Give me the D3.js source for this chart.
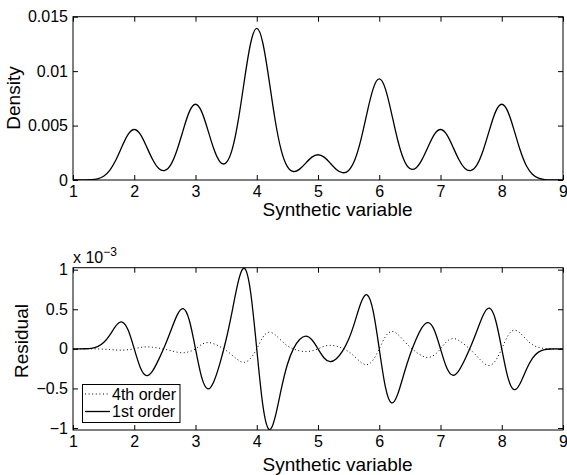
<!DOCTYPE html>
<html>
<head>
<meta charset="utf-8">
<script src="https://cdn.jsdelivr.net/npm/d3@7"></script>
<style>
	body { margin: 0; background: #fff; }
	svg text { font-family: "Liberation Sans", Arial, Helvetica, sans-serif; fill: #000; }
	.tick text { font-size: 16px; }
	.axis-label { font-size: 19px; }
	.legend-label { font-size: 16px; }
</style>
</head>
<body>
<svg id="chart" width="567" height="475"></svg>
<script>

// sample positions along the synthetic variable
const x_values = [
	1.0, 1.1, 1.2, 1.3, 1.4, 1.5, 1.6, 1.7, 1.8, 1.9,
	2.0, 2.1, 2.2, 2.3, 2.4, 2.5, 2.6, 2.7, 2.8, 2.9,
	3.0, 3.1, 3.2, 3.3, 3.4, 3.5, 3.6, 3.7, 3.8, 3.9,
	4.0, 4.1, 4.2, 4.3, 4.4, 4.5, 4.6, 4.7, 4.8, 4.9,
	5.0, 5.1, 5.2, 5.3, 5.4, 5.5, 5.6, 5.7, 5.8, 5.9,
	6.0, 6.1, 6.2, 6.3, 6.4, 6.5, 6.6, 6.7, 6.8, 6.9,
	7.0, 7.1, 7.2, 7.3, 7.4, 7.5, 7.6, 7.7, 7.8, 7.9,
	8.0, 8.1, 8.2, 8.3, 8.4, 8.5, 8.6, 8.7, 8.8, 8.9, 9.0];

const density = [
	0.00000, 0.00000, 0.00001, 0.00003, 0.00011, 0.00035, 0.00089, 0.00183, 0.00307, 0.00419,
	0.00464, 0.00419, 0.00308, 0.00188, 0.00106, 0.00088, 0.00144, 0.00278, 0.00461, 0.00628,
	0.00696, 0.00628, 0.00463, 0.00284, 0.00167, 0.00158, 0.00283, 0.00554, 0.00922, 0.01256,
	0.01392, 0.01256, 0.00922, 0.00551, 0.00272, 0.00123, 0.00078, 0.00100, 0.00155, 0.00210,
	0.00232, 0.00210, 0.00155, 0.00097, 0.00067, 0.00088, 0.00183, 0.00368, 0.00615, 0.00837,
	0.00928, 0.00837, 0.00615, 0.00370, 0.00189, 0.00105, 0.00111, 0.00189, 0.00308, 0.00419,
	0.00464, 0.00419, 0.00308, 0.00188, 0.00106, 0.00088, 0.00144, 0.00278, 0.00461, 0.00628,
	0.00696, 0.00628, 0.00461, 0.00275, 0.00133, 0.00053, 0.00017, 0.00004, 0.00001, 0.00000, 0.00000];

// residuals, in units of 10^-3
const residual_4th = [
	0, 0, 0, 0, -0.001, -0.004, -0.008, -0.014, -0.016, -0.011,
	0, 0.018, 0.025, 0.020, 0.009, -0.006, -0.024, -0.042, -0.050, -0.035,
	0, 0.056, 0.079, 0.064, 0.027, -0.021, -0.081, -0.143, -0.170, -0.119,
	0, 0.147, 0.210, 0.178, 0.105, 0.040, -0.001, -0.025, -0.034, -0.025,
	0, 0.032, 0.044, 0.034, 0.007, -0.036, -0.099, -0.169, -0.200, -0.140,
	0, 0.154, 0.219, 0.185, 0.104, 0.025, -0.039, -0.089, -0.109, -0.077,
	0, 0.091, 0.129, 0.106, 0.050, -0.019, -0.097, -0.175, -0.210, -0.147,
	0, 0.165, 0.235, 0.200, 0.120, 0.054, 0.019, 0.005, 0.001, 0, 0];

const residual_1st = [
	0, 0, 0.001, 0.007, 0.027, 0.079, 0.174, 0.289, 0.339, 0.238,
	0, -0.238, -0.337, -0.278, -0.133, 0.039, 0.234, 0.426, 0.508, 0.358,
	0, -0.357, -0.505, -0.411, -0.180, 0.118, 0.481, 0.855, 1.016, 0.715,
	0, -0.715, -1.017, -0.863, -0.509, -0.198, 0.003, 0.118, 0.160, 0.115,
	0, -0.115, -0.162, -0.126, -0.030, 0.120, 0.338, 0.578, 0.683, 0.480,
	0, -0.480, -0.682, -0.575, -0.324, -0.080, 0.118, 0.271, 0.332, 0.236,
	0, -0.236, -0.333, -0.274, -0.131, 0.041, 0.237, 0.430, 0.513, 0.361,
	0, -0.361, -0.514, -0.437, -0.264, -0.119, -0.041, -0.011, -0.002, 0, 0];

const x_ticks = [1, 2, 3, 4, 5, 6, 7, 8, 9];
const density_ticks = [0, 0.005, 0.01, 0.015];
const density_tick_labels = ["0", "0.005", "0.01", "0.015"];
const residual_ticks = [-1, -0.5, 0, 0.5, 1];
const residual_tick_labels = ["\u22121", "\u22120.5", "0", "0.5", "1"];
const legend_labels = ["4th order", "1st order"];

const svg = d3.select("#chart");

const x = d3.scaleLinear().domain([1, 9]).range([73, 563]);

function drawFrame(g, y, y_ticks, y_labels, id) {
	const [x0, x1] = x.range();
	const [y0, y1] = y.range();

	g.append("g")
		.attr("transform", "translate(0," + y0 + ")")
		.call(d3.axisBottom(x).tickValues(x_ticks).tickFormat(d3.format("d")).tickSize(-5).tickPadding(6));
	g.append("g")
		.attr("transform", "translate(0," + y1 + ")")
		.call(d3.axisTop(x).tickValues(x_ticks).tickFormat("").tickSize(-5));
	g.append("g")
		.attr("transform", "translate(" + x0 + ",0)")
		.call(d3.axisLeft(y).tickValues(y_ticks).tickFormat((d, i) => y_labels[i]).tickSize(-5).tickPadding(5));
	g.append("g")
		.attr("transform", "translate(" + x1 + ",0)")
		.call(d3.axisRight(y).tickValues(y_ticks).tickFormat("").tickSize(-5));
	g.selectAll(".domain").remove();

	g.append("rect")
		.attr("x", x0).attr("y", y1)
		.attr("width", x1 - x0).attr("height", y0 - y1)
		.style("fill", "none")
		.style("stroke", "black")
		.style("stroke-width", "1px");

	// clip the curves to the axes box
	g.append("clipPath").attr("id", id)
		.append("rect")
		.attr("x", x0).attr("y", y1)
		.attr("width", x1 - x0).attr("height", y0 - y1);
}

function drawCurve(g, y, values, dash, clip_id) {
	const line = d3.line()
		.x((d, i) => x(x_values[i]))
		.y(d => y(d))
		.curve(d3.curveNatural);
	g.append("path")
		.datum(values)
		.attr("d", line)
		.attr("clip-path", "url(#" + clip_id + ")")
		.style("fill", "none")
		.style("stroke", "black")
		.style("stroke-width", dash ? "1px" : "1.3px")
		.style("stroke-dasharray", dash ? dash : null);
}

// top panel: density
const y_density = d3.scaleLinear().domain([0, 0.015]).range([180, 16.7]);
const top_g = svg.append("g");
drawFrame(top_g, y_density, density_ticks, density_tick_labels, "clip-top");
drawCurve(top_g, y_density, density, null, "clip-top");

top_g.append("text")
	.attr("class", "axis-label")
	.attr("x", 337.5).attr("y", 216)
	.attr("text-anchor", "middle")
	.text("Synthetic variable");
top_g.append("text")
	.attr("class", "axis-label")
	.attr("text-anchor", "middle")
	.attr("transform", "translate(20,98) rotate(-90)")
	.text("Density");

// bottom panel: residuals
const y_resid = d3.scaleLinear().domain([-1.025, 1.025]).range([430, 267.7]);
const bot_g = svg.append("g");
drawFrame(bot_g, y_resid, residual_ticks, residual_tick_labels, "clip-bottom");
drawCurve(bot_g, y_resid, residual_4th, "1,2.6", "clip-bottom");
drawCurve(bot_g, y_resid, residual_1st, null, "clip-bottom");

bot_g.append("text")
	.attr("class", "axis-label")
	.attr("x", 337.5).attr("y", 471)
	.attr("text-anchor", "middle")
	.text("Synthetic variable");
bot_g.append("text")
	.attr("class", "axis-label")
	.attr("text-anchor", "middle")
	.attr("transform", "translate(28,341) rotate(-90)")
	.text("Residual");

// exponent label
const mult = bot_g.append("text")
	.attr("x", 73).attr("y", 263)
	.style("font-size", "16px");
mult.append("tspan").text("x 10");
mult.append("tspan")
	.attr("dy", -7)
	.style("font-size", "12px")
	.text("\u22123");

// legend
const legend = bot_g.append("g");
legend.append("rect")
	.attr("x", 82.5).attr("y", 384.5)
	.attr("width", 97.5).attr("height", 38)
	.style("fill", "white")
	.style("stroke", "black")
	.style("stroke-width", "1px");

const legend_rows = legend.selectAll("g.row")
	.data(legend_labels)
	.enter()
	.append("g")
		.attr("class", "row")
		.attr("transform", (d, i) => "translate(0," + (394 + i * 17.5) + ")");

legend_rows.append("line")
	.attr("x1", 85).attr("x2", 110)
	.attr("y1", 0).attr("y2", 0)
	.style("stroke", "black")
	.style("stroke-width", (d, i) => i == 0 ? "1px" : "1.3px")
	.style("stroke-dasharray", (d, i) => i == 0 ? "1,2.6" : null);

legend_rows.append("text")
	.attr("class", "legend-label")
	.attr("x", 112).attr("y", 5.8)
	.text(d => d);

</script>
</body>
</html>
